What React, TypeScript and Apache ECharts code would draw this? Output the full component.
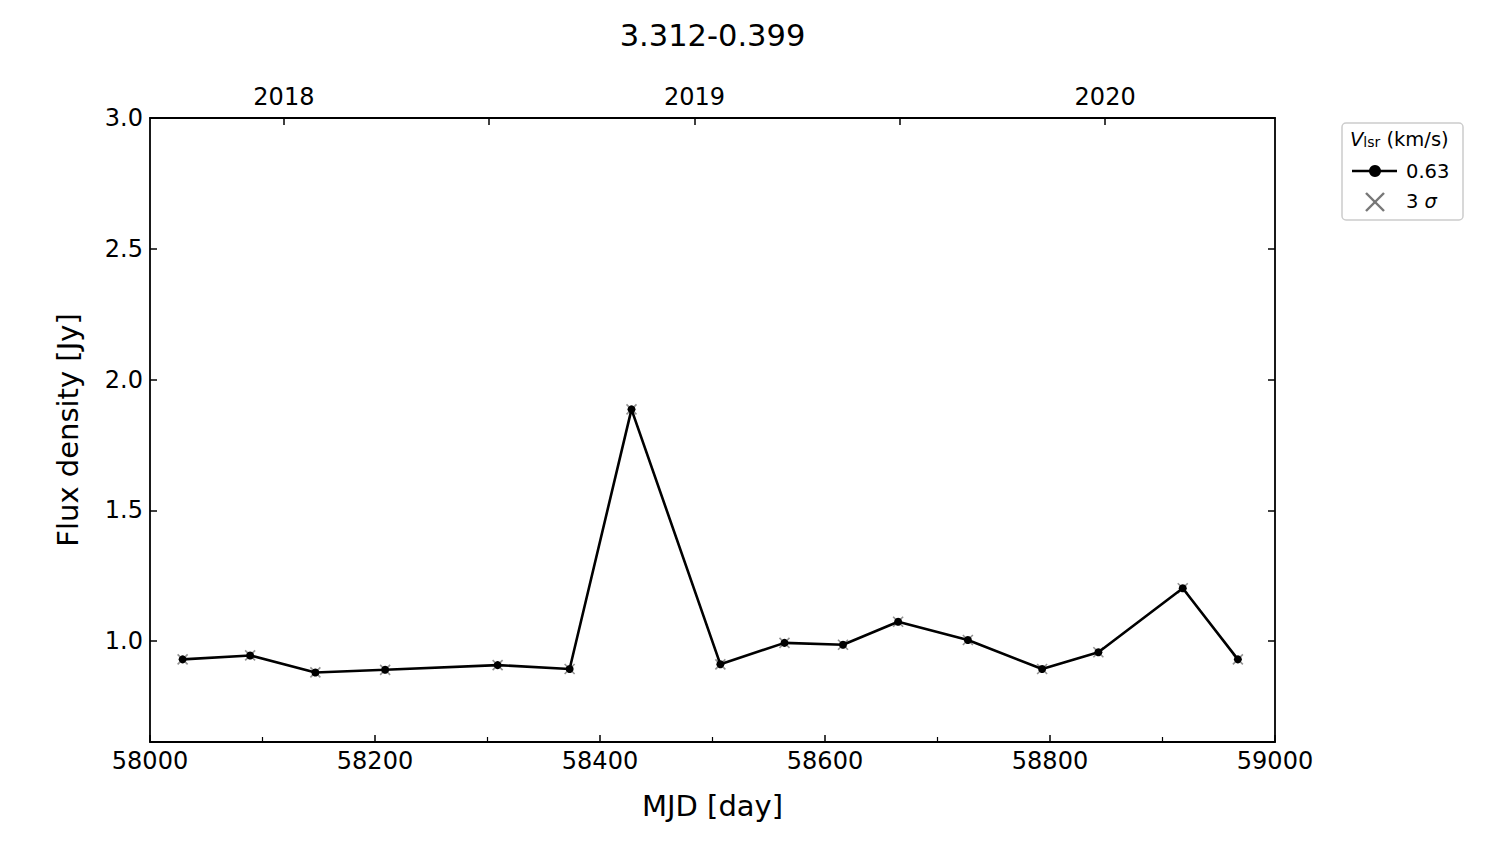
import React, { useEffect, useRef } from "react";
import * as echarts from "echarts";

const mjd = [58029, 58089, 58147, 58209, 58309, 58373, 58428, 58507, 58564, 58616, 58665, 58727, 58793, 58843, 58918, 58967];
const flux = [0.930, 0.945, 0.880, 0.890, 0.908, 0.893, 1.886, 0.911, 0.993, 0.986, 1.074, 1.004, 0.893, 0.957, 1.202, 0.930];
const sigma3 = [0.930, 0.945, 0.880, 0.890, 0.908, 0.893, 1.886, 0.911, 0.993, 0.986, 1.074, 1.004, 0.893, 0.957, 1.202, 0.930];

const yTicks = [1.0, 1.5, 2.0, 2.5, 3.0];
const yearMjd = [58119, 58484, 58849];
const yearLabels = ["2018", "2019", "2020"];
const halfYearMjd = [58301.5, 58666.5];
const vlsrLabel = "0.63";
const sigmaLabel = "3";

const FONT = "DejaVu Sans";

export default function App() {
  const ref = useRef<HTMLDivElement>(null);
  useEffect(() => {
    if (!ref.current) return;
    const chart = echarts.init(ref.current, undefined, { renderer: "svg" });
    const axisLineStyle = { color: "#000", width: 1.8 };
    const topTicks = [...yearMjd, ...halfYearMjd].sort((a, b) => a - b);
    chart.setOption({
      animation: false,
      backgroundColor: "#fff",
      grid: { left: 150, right: 225, top: 118, bottom: 102 },
      xAxis: [
        {
          type: "value",
          position: "bottom",
          min: 58000,
          max: 59000,
          interval: 200,
          name: "MJD [day]",
          nameLocation: "middle",
          nameGap: 49,
          nameTextStyle: { fontFamily: FONT, fontSize: 29, color: "#000" },
          axisLine: { show: true, onZero: false, lineStyle: axisLineStyle },
          axisTick: { show: true, inside: true, length: 7, lineStyle: { color: "#000", width: 1.5 } },
          minorTick: { show: true, splitNumber: 2, length: 5, lineStyle: { color: "#000", width: 1.2 } },
          axisLabel: { fontFamily: FONT, fontSize: 24, color: "#000", margin: 7, formatter: (v: number) => String(v) },
          splitLine: { show: false },
        },
        {
          type: "value",
          position: "top",
          min: 58000,
          max: 59000,
          axisLine: { show: true, onZero: false, lineStyle: axisLineStyle },
          axisTick: { show: true, inside: true, length: 7, customValues: topTicks, lineStyle: { color: "#000", width: 1.5 } },
          axisLabel: {
            show: true,
            customValues: yearMjd,
            fontFamily: FONT,
            fontSize: 24,
            color: "#000",
            margin: 9,
            formatter: (v: number) => {
              const i = yearMjd.indexOf(v);
              return i >= 0 ? yearLabels[i] : "";
            },
          },
          splitLine: { show: false },
        },
      ],
      yAxis: [
        {
          type: "value",
          position: "left",
          min: 0.614,
          max: 3.0,
          name: "Flux density [Jy]",
          nameLocation: "middle",
          nameGap: 68,
          nameTextStyle: { fontFamily: FONT, fontSize: 29, color: "#000" },
          axisLine: { show: true, onZero: false, lineStyle: axisLineStyle },
          axisTick: { show: true, inside: true, length: 7, customValues: yTicks, lineStyle: { color: "#000", width: 1.5 } },
          axisLabel: {
            customValues: yTicks,
            fontFamily: FONT,
            fontSize: 24,
            color: "#000",
            margin: 7,
            formatter: (v: number) => v.toFixed(1),
          },
          splitLine: { show: false },
        },
        {
          type: "value",
          position: "right",
          min: 0.614,
          max: 3.0,
          axisLine: { show: true, onZero: false, lineStyle: axisLineStyle },
          axisTick: { show: true, inside: true, length: 7, customValues: yTicks, lineStyle: { color: "#000", width: 1.5 } },
          axisLabel: { show: false },
          splitLine: { show: false },
        },
      ],
      series: [
        {
          type: "scatter",
          name: "3 sigma",
          xAxisIndex: 0,
          yAxisIndex: 0,
          data: mjd.map((x, i) => [x, sigma3[i]]),
          symbol: "path://M0,0L10,10M10,0L0,10",
          symbolSize: 10,
          itemStyle: { color: "none", borderColor: "#777", borderWidth: 1.6 },
          z: 2,
        },
        {
          type: "line",
          name: vlsrLabel,
          xAxisIndex: 0,
          yAxisIndex: 0,
          data: mjd.map((x, i) => [x, flux[i]]),
          symbol: "circle",
          symbolSize: 8,
          showAllSymbol: true,
          lineStyle: { color: "#000", width: 2.6 },
          itemStyle: { color: "#000" },
          z: 3,
        },
      ],
      graphic: [
        {
          type: "text",
          x: 712.5,
          y: 35,
          style: {
            text: "3.312-0.399",
            fontFamily: FONT,
            fontSize: 30.5,
            fill: "#000",
            align: "center",
            verticalAlign: "middle",
          },
        },
        {
          type: "rect",
          shape: { x: 1342, y: 123, width: 121, height: 97, r: 4 },
          style: { fill: "rgba(255,255,255,0.8)", stroke: "#ccc", lineWidth: 1.5 },
          z: 10,
        },
        {
          type: "text",
          x: 1350,
          y: 126,
          z: 11,
          style: {
            text: "{v|V}{s|lsr}{n| (km/s)}",
            rich: {
              v: { fontFamily: FONT, fontSize: 19.5, fontStyle: "italic", fill: "#000", verticalAlign: "bottom" },
              s: { fontFamily: FONT, fontSize: 14, fill: "#000", padding: [9, 0, 0, 0], verticalAlign: "bottom" },
              n: { fontFamily: FONT, fontSize: 19.5, fill: "#000", verticalAlign: "bottom" },
            },
          },
        },
        {
          type: "line",
          z: 11,
          shape: { x1: 1352, y1: 171, x2: 1397, y2: 171 },
          style: { stroke: "#000", lineWidth: 2.6 },
        },
        {
          type: "circle",
          z: 11,
          shape: { cx: 1375, cy: 171, r: 6 },
          style: { fill: "#000" },
        },
        {
          type: "text",
          x: 1406,
          y: 171,
          z: 11,
          style: { text: vlsrLabel, fontFamily: FONT, fontSize: 19.5, fill: "#000", verticalAlign: "middle" },
        },
        {
          type: "line",
          z: 11,
          shape: { x1: 1366, y1: 193, x2: 1384, y2: 211 },
          style: { stroke: "#777", lineWidth: 2.4 },
        },
        {
          type: "line",
          z: 11,
          shape: { x1: 1384, y1: 193, x2: 1366, y2: 211 },
          style: { stroke: "#777", lineWidth: 2.4 },
        },
        {
          type: "text",
          x: 1406,
          y: 201,
          z: 11,
          style: {
            text: "{n|" + sigmaLabel + " }{i|σ}",
            verticalAlign: "middle",
            rich: {
              n: { fontFamily: FONT, fontSize: 19.5, fill: "#000" },
              i: { fontFamily: FONT, fontSize: 19.5, fontStyle: "italic", fill: "#000" },
            },
          },
        },
      ],
    });
    return () => chart.dispose();
  }, []);
  return <div ref={ref} style={{ width: 1500, height: 844, margin: -8 }} />;
}
